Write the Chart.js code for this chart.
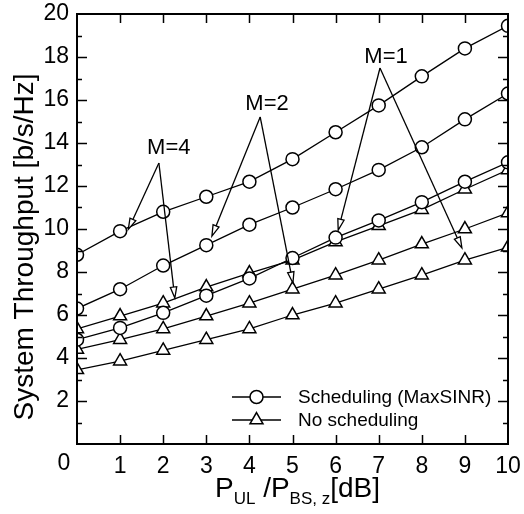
<!DOCTYPE html>
<html>
<head>
<meta charset="utf-8">
<script src="https://cdn.jsdelivr.net/npm/chart.js@4/dist/chart.umd.min.js"></script>
<style>
  html, body { margin: 0; padding: 0; background: #fff; }
  #c { display: block; }
</style>
</head>
<body>
<canvas id="c" width="524" height="514"></canvas>
<script>
// ---- data ----
const xValues = [0, 1, 2, 3, 4, 5, 6, 7, 8, 9, 10];
const schedM4 = [8.8, 9.9, 10.8, 11.5, 12.2, 13.25, 14.5, 15.75, 17.1, 18.4, 19.45];
const schedM2 = [6.3, 7.2, 8.3, 9.25, 10.2, 11.0, 11.85, 12.75, 13.8, 15.1, 16.3];
const schedM1 = [4.85, 5.4, 6.1, 6.9, 7.7, 8.65, 9.6, 10.4, 11.25, 12.2, 13.1];
const noSchedM4 = [5.35, 5.95, 6.55, 7.3, 7.95, 8.55, 9.4, 10.15, 10.9, 11.85, 12.75];
const noSchedM2 = [4.4, 4.85, 5.35, 5.95, 6.55, 7.2, 7.85, 8.55, 9.3, 10.0, 10.75];
const noSchedM1 = [3.45, 3.85, 4.35, 4.85, 5.35, 6.0, 6.55, 7.2, 7.85, 8.55, 9.15];
const yTickLabels = [2, 4, 6, 8, 10, 12, 14, 16, 18, 20];
const xTickLabels = [1, 2, 3, 4, 5, 6, 7, 8, 9, 10];
const legendLabels = ['Scheduling (MaxSINR)', 'No scheduling'];
const xTitleParts = [['P', false], ['UL', true], [' /P', false], ['BS, z', true], ['[dB]', false]];
const yTitle = 'System Throughput [b/s/Hz]';
// annotations in data units: label, text position, apex, arrow tips
const annotations = [
  { text: 'M=4', tx: 2.13, ty: 13.5, ax: 1.90, ay: 13.07, tips: [[1.19, 9.98], [2.27, 6.79]] },
  { text: 'M=2', tx: 4.41, ty: 15.55, ax: 4.25, ay: 15.21, tips: [[3.13, 9.67], [5.01, 7.49]] },
  { text: 'M=1', tx: 7.17, ty: 17.72, ax: 7.03, ay: 17.49, tips: [[6.06, 9.95], [8.93, 9.12]] }
];

const FONT = "'Liberation Sans', Arial, Helvetica, sans-serif";
const toPts = arr => xValues.map((x, i) => ({ x: x, y: arr[i] }));

function ds(arr, style) {
  return {
    data: toPts(arr),
    borderColor: '#000',
    borderWidth: 1.3,
    pointStyle: style,
    pointRadius: style === 'circle' ? 6.5 : 7.5,
    pointBorderColor: '#000',
    pointBackgroundColor: '#fff',
    pointBorderWidth: 1.5,
    fill: false,
    tension: 0
  };
}

function drawMarker(ctx, style, x, y) {
  ctx.save();
  ctx.fillStyle = '#fff';
  ctx.strokeStyle = '#000';
  ctx.lineWidth = 1.5;
  ctx.beginPath();
  if (style === 'circle') {
    ctx.arc(x, y, 6.5, 0, Math.PI * 2);
  } else {
    const r = 7.5;
    ctx.moveTo(x, y - r);
    ctx.lineTo(x + r * Math.sin(2 * Math.PI / 3), y - r * Math.cos(2 * Math.PI / 3));
    ctx.lineTo(x + r * Math.sin(4 * Math.PI / 3), y - r * Math.cos(4 * Math.PI / 3));
    ctx.closePath();
  }
  ctx.fill();
  ctx.stroke();
  ctx.restore();
}

const decorPlugin = {
  id: 'decor',
  afterDraw(chart) {
    const { ctx, chartArea: a, scales: { x, y } } = chart;
    ctx.save();
    ctx.strokeStyle = '#000';
    ctx.fillStyle = '#000';
    // ticks (inward)
    ctx.lineWidth = 1.5;
    ctx.beginPath();
    for (let v = 1; v < 20; v++) {
      const py = Math.round(y.getPixelForValue(v)) + 0.5;
      const len = v % 2 === 0 ? 10 : 5;
      ctx.moveTo(a.left, py); ctx.lineTo(a.left + len, py);
      ctx.moveTo(a.right, py); ctx.lineTo(a.right - len, py);
    }
    for (let v = 1; v < 10; v++) {
      const px = Math.round(x.getPixelForValue(v)) + 0.5;
      ctx.moveTo(px, a.bottom); ctx.lineTo(px, a.bottom - 9);
      ctx.moveTo(px, a.top); ctx.lineTo(px, a.top + 9);
    }
    ctx.stroke();
    // frame
    ctx.lineWidth = 2;
    ctx.strokeRect(a.left, a.top, a.right - a.left, a.bottom - a.top);

    // corner "0" label
    ctx.font = '23px ' + FONT;
    ctx.textAlign = 'center';
    ctx.textBaseline = 'alphabetic';
    ctx.fillText('0', a.left - 13, a.bottom + 26);

    // y title
    ctx.save();
    ctx.translate(33, (a.top + a.bottom) / 2 + 18);
    ctx.rotate(-Math.PI / 2);
    ctx.font = '28px ' + FONT;
    ctx.textAlign = 'center';
    ctx.textBaseline = 'alphabetic';
    ctx.fillText(yTitle, 0, 0);
    ctx.restore();

    // x title with subscripts
    const big = '28px ' + FONT, small = '17px ' + FONT;
    let total = 0;
    xTitleParts.forEach(([t, sub]) => { ctx.font = sub ? small : big; total += ctx.measureText(t).width; });
    let cx = (a.left + a.right) / 2 + 5 - total / 2;
    ctx.textAlign = 'left';
    xTitleParts.forEach(([t, sub]) => {
      ctx.font = sub ? small : big;
      ctx.fillText(t, cx, sub ? 504 : 497);
      cx += ctx.measureText(t).width;
    });

    // legend
    const styles = ['circle', 'triangle'];
    const lys = [397, 420];
    ctx.font = '19px ' + FONT;
    ctx.textBaseline = 'middle';
    styles.forEach((s, i) => {
      ctx.lineWidth = 1.3;
      ctx.beginPath();
      ctx.moveTo(232, lys[i]); ctx.lineTo(281, lys[i]);
      ctx.stroke();
      drawMarker(ctx, s, 256.5, lys[i]);
      ctx.fillStyle = '#000';
      ctx.fillText(legendLabels[i], 298, lys[i] + 1);
    });

    // annotations
    ctx.font = '22px ' + FONT;
    ctx.textAlign = 'center';
    ctx.textBaseline = 'alphabetic';
    annotations.forEach(an => {
      ctx.fillStyle = '#000';
      ctx.fillText(an.text, x.getPixelForValue(an.tx), y.getPixelForValue(an.ty));
      const ax = x.getPixelForValue(an.ax), ay = y.getPixelForValue(an.ay);
      an.tips.forEach(([tx, ty]) => {
        const px = x.getPixelForValue(tx), py = y.getPixelForValue(ty);
        const ang = Math.atan2(py - ay, px - ax);
        const hl = 11, hw = 3.2;
        const bx = px - hl * Math.cos(ang), by = py - hl * Math.sin(ang);
        ctx.lineWidth = 1.3;
        ctx.beginPath();
        ctx.moveTo(ax, ay); ctx.lineTo(bx, by);
        ctx.stroke();
        ctx.beginPath();
        ctx.moveTo(px, py);
        ctx.lineTo(bx + hw * Math.sin(ang), by - hw * Math.cos(ang));
        ctx.lineTo(bx - hw * Math.sin(ang), by + hw * Math.cos(ang));
        ctx.closePath();
        ctx.fillStyle = '#fff';
        ctx.fill();
        ctx.stroke();
      });
    });
    ctx.restore();
  }
};

function zeroPad(s) {
  s.paddingTop = 0; s.paddingBottom = 0; s.paddingLeft = 0; s.paddingRight = 0;
}

new Chart(document.getElementById('c'), {
  type: 'line',
  data: {
    datasets: [
      ds(schedM4, 'circle'), ds(schedM2, 'circle'), ds(schedM1, 'circle'),
      ds(noSchedM4, 'triangle'), ds(noSchedM2, 'triangle'), ds(noSchedM1, 'triangle')
    ]
  },
  options: {
    responsive: false,
    animation: false,
    devicePixelRatio: 1,
    layout: { padding: { top: 14, right: 16, left: 0, bottom: 0 } },
    plugins: { legend: { display: false }, tooltip: { enabled: false } },
    scales: {
      x: {
        type: 'linear', min: 0, max: 10,
        grid: { display: false, drawTicks: false }, border: { display: false },
        ticks: {
          stepSize: 1, maxRotation: 0, color: '#000', padding: 9,
          font: { family: FONT, size: 23 },
          callback: v => xTickLabels.includes(v) ? String(v) : ''
        },
        afterFit: s => { s.height = 70; zeroPad(s); }
      },
      y: {
        min: 0, max: 20,
        grid: { display: false, drawTicks: false }, border: { display: false },
        ticks: {
          stepSize: 2, color: '#000', padding: 8,
          font: { family: FONT, size: 23 },
          callback: v => yTickLabels.includes(v) ? String(v) : ''
        },
        afterFit: s => { s.width = 77; zeroPad(s); }
      }
    }
  },
  plugins: [decorPlugin]
});
</script>
</body>
</html>
